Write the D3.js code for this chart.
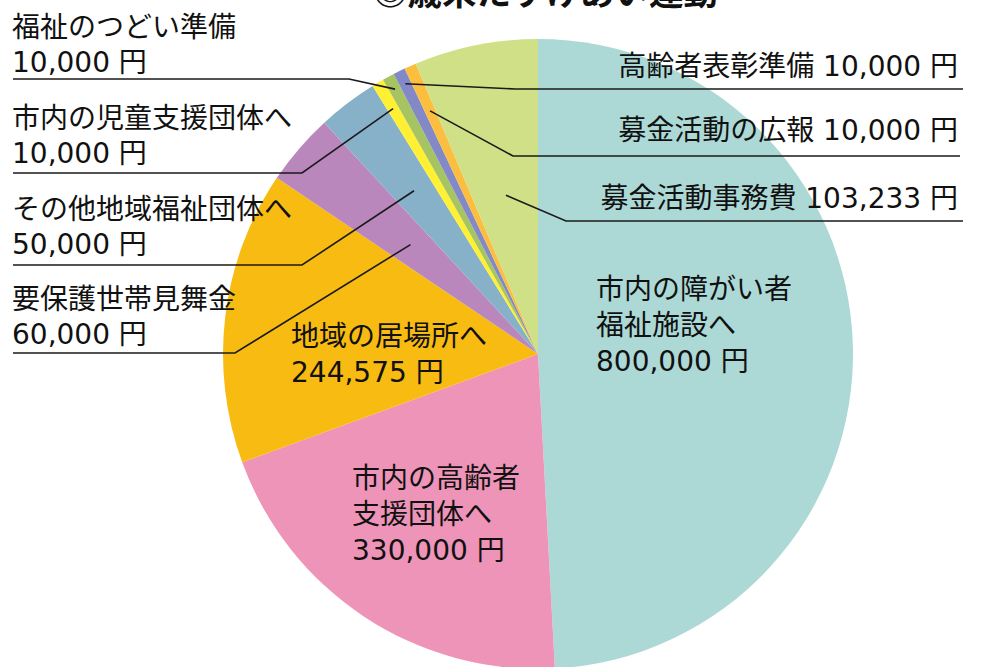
<!DOCTYPE html>
<html>
<head>
<meta charset="utf-8">
<script src="https://cdn.jsdelivr.net/npm/d3@7"></script>
<style>
  body { margin: 0; background: #fff; }
  svg { display: block; }
</style>
</head>
<body>
<script>
const width = 982;
const height = 667;
const cx = 538, cy = 354, radius = 315;

// slices, clockwise from 12 o'clock
const names = ["障がい者福祉施設", "高齢者支援団体", "地域の居場所", "要保護世帯見舞金",
  "その他地域福祉団体", "児童支援団体", "福祉のつどい準備", "高齢者表彰準備",
  "募金活動の広報", "募金活動事務費"];
const amounts = [800000, 330000, 244575, 60000, 50000, 10000, 10000, 10000, 10000, 103233];
const colors = ["#acd9d6", "#ee94b8", "#f8bb12", "#b987bb", "#87b0c9", "#fff034",
  "#a6c462", "#8389c6", "#fbbe3e", "#cfe087"];

// labels inside the big slices
const insideLabels = [
  { i: 0, x: 596, y: 299, lines: ["市内の障がい者", "福祉施設へ", "800,000 円"] },
  { i: 1, x: 352, y: 488, lines: ["市内の高齢者", "支援団体へ", "330,000 円"] },
  { i: 2, x: 291, y: 346, lines: ["地域の居場所へ", "244,575 円"] }
];

// labels outside with leader lines
const leftLabels = [
  { i: 6, r: 301, y: 37, line: 79, elbow: 349, lines: ["福祉のつどい準備", "10,000 円"] },
  { i: 5, r: 285, y: 128, line: 173, elbow: 302, lines: ["市内の児童支援団体へ", "10,000 円"] },
  { i: 4, r: 205, y: 219, line: 265, elbow: 302, lines: ["その他地域福祉団体へ", "50,000 円"] },
  { i: 3, r: 168, y: 309, line: 353, elbow: 235, lines: ["要保護世帯見舞金", "60,000 円"] }
];
const rightLabels = [
  { i: 7, r: 301, y: 76, line: 89, elbow: 515, end: 963, text: "高齢者表彰準備 10,000 円" },
  { i: 8, r: 266, y: 140, line: 156, elbow: 513, end: 960, text: "募金活動の広報 10,000 円" },
  { i: 9, r: 162, y: 208, line: 221, elbow: 566, end: 963, text: "募金活動事務費 103,233 円" }
];

const svg = d3.select("body").append("svg")
  .attr("width", width)
  .attr("height", height)
  .style("font-family", "'DejaVu Sans', 'Noto Sans CJK JP', sans-serif");

// title, cut off at the top edge
svg.append("text")
  .attr("x", 373).attr("y", 5)
  .attr("font-size", 34.5)
  .attr("font-weight", "bold")
  .attr("fill", "#111")
  .style("font-family", "'Noto Sans CJK JP', sans-serif")
  .text("◎歳末たすけあい運動");

const arcs = d3.pie().sort(null).value(d => d)(amounts);
const arc = d3.arc().innerRadius(0).outerRadius(radius);

const g = svg.append("g").attr("transform", "translate(" + cx + "," + cy + ")");

g.selectAll("path")
  .data(arcs)
  .enter().append("path")
  .attr("d", arc)
  .attr("fill", (d, i) => colors[i]);

function anchor(i, r) {
  const a = (arcs[i].startAngle + arcs[i].endAngle) / 2;
  return [cx + r * Math.sin(a), cy - r * Math.cos(a)];
}

const lineGen = d3.line();

leftLabels.forEach(function(d) {
  const p = anchor(d.i, d.r);
  svg.append("path")
    .attr("d", lineGen([[13, d.line], [d.elbow, d.line], p]))
    .attr("fill", "none")
    .attr("stroke", "#1a1a1a")
    .attr("stroke-width", 1.6);
  const t = svg.append("text")
    .attr("x", 12).attr("y", d.y)
    .attr("font-size", 28)
    .attr("fill", "#111");
  d.lines.forEach(function(s, k) {
    t.append("tspan").attr("x", 12).attr("y", d.y + k * 35).text(s);
  });
});

rightLabels.forEach(function(d) {
  const p = anchor(d.i, d.r);
  svg.append("path")
    .attr("d", lineGen([p, [d.elbow, d.line], [d.end, d.line]]))
    .attr("fill", "none")
    .attr("stroke", "#1a1a1a")
    .attr("stroke-width", 1.6);
  svg.append("text")
    .attr("x", 958).attr("y", d.y)
    .attr("text-anchor", "end")
    .attr("font-size", 28)
    .attr("fill", "#111")
    .text(d.text);
});

insideLabels.forEach(function(d) {
  const t = svg.append("text")
    .attr("x", d.x).attr("y", d.y)
    .attr("font-size", 28)
    .attr("fill", "#111");
  d.lines.forEach(function(s, k) {
    t.append("tspan").attr("x", d.x).attr("y", d.y + k * 36).text(s);
  });
});
</script>
</body>
</html>
